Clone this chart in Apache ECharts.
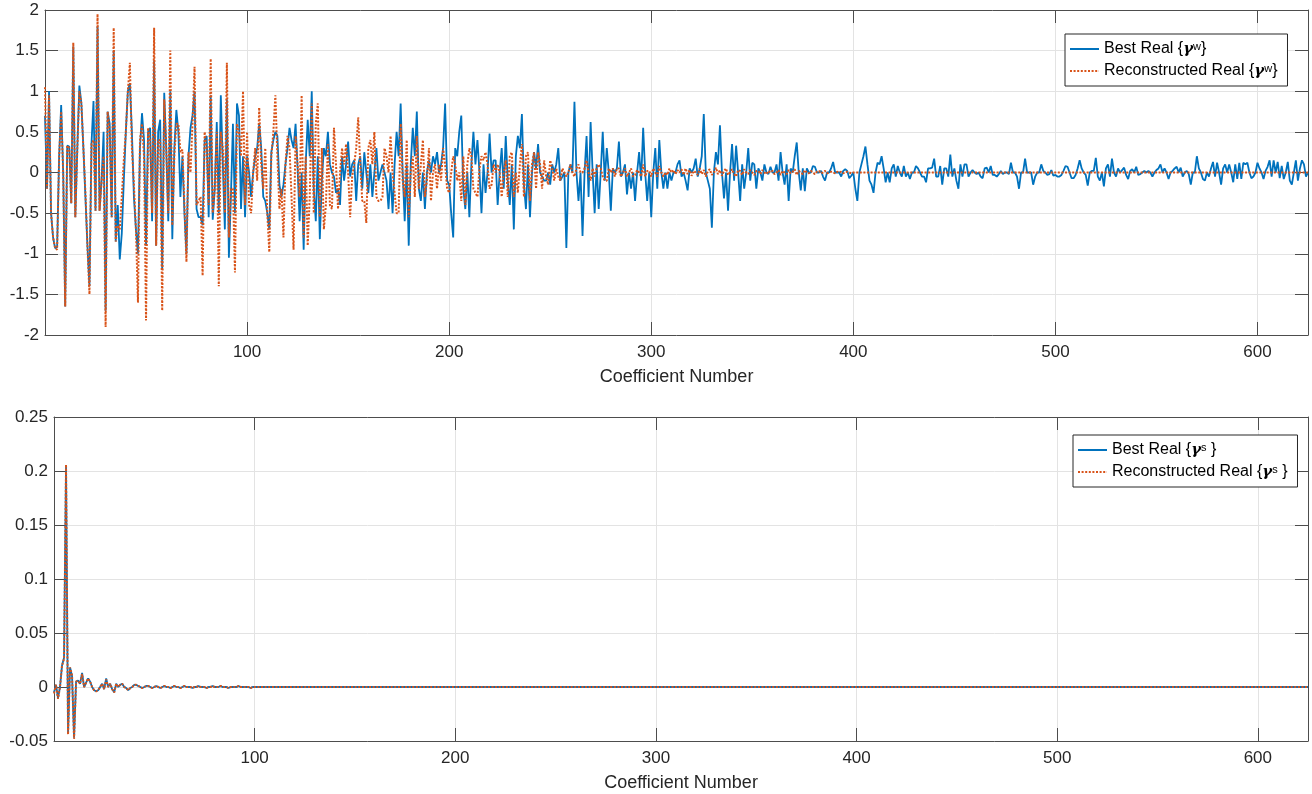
<!DOCTYPE html>
<html>
<head>
<meta charset="utf-8">
<script src="https://cdn.jsdelivr.net/npm/echarts@6/dist/echarts.min.js"></script>
<style>
  html, body { margin: 0; padding: 0; background: #fff; }
  #main { width: 1312px; height: 794px; }
</style>
</head>
<body>
<div id="main"></div>
<script>
// x runs 0..625 (coefficient number)
var xMin = 0, xMax = 625;

// top panel: best vs reconstructed real {gamma^w}
var bestW = [
  0.7,-0.2,1.0,-0.5,-0.8,-0.93,-0.92,0.2,0.83,0.0,
  -1.65,0.33,0.32,-0.38,1.55,-0.55,0.3,1.07,0.85,0.3,
  -0.3,-0.9,-1.4,0.35,0.88,-0.47,1.8,-0.47,-0.1,0.5,
  -1.7,0.75,0.6,-0.55,1.5,-0.85,-0.4,-1.07,-0.75,-0.1,
  0.5,1.0,1.1,0.5,-0.3,-0.7,-1.0,0.3,0.73,0.4,
  -0.9,0.5,0.55,-0.6,1.38,-0.9,0.5,0.65,-1.2,0.98,
  0.3,-0.6,1.0,-0.82,0.3,0.77,0.5,-0.3,0.2,-0.5,
  -1.0,0.2,0.55,0.7,1.0,-0.45,-0.55,-0.55,-0.65,0.4,
  0.45,-0.55,0.95,-0.58,-0.2,0.62,-0.5,0.95,0.1,-0.7,
  0.9,-1.05,-0.3,0.6,-0.5,0.85,0.7,-0.45,0.2,-0.55,
  0.2,0.0,-0.3,0.0,0.2,0.3,0.6,0.3,-0.3,-0.35,
  -0.5,-0.7,0.25,0.4,0.5,0.45,-0.15,-0.3,-0.15,0.1,
  0.3,0.55,0.4,0.3,0.6,0.05,-0.6,0.0,-0.95,0.1,
  0.65,0.2,1.0,-0.2,-0.6,0.2,-0.82,-0.1,0.3,0.2,
  0.5,0.1,0.0,-0.05,-0.25,-0.2,-0.4,0.2,-0.1,0.1,
  0.38,-0.05,0.1,0.15,-0.35,0.1,0.2,-0.2,0.25,0.0,
  -0.25,0.1,-0.3,0.0,0.3,-0.1,0.0,0.1,0.0,-0.1,
  -0.45,0.0,-0.5,0.1,0.5,0.2,0.85,0.0,-0.6,0.1,
  -0.9,0.1,0.55,0.2,0.75,-0.2,-0.35,0.0,-0.45,0.0,
  0.15,0.0,0.2,0.1,0.25,0.0,0.1,0.3,0.85,-0.1,
  -0.15,-0.5,-0.8,0.3,0.2,0.5,0.7,-0.2,-0.45,0.0,
  -0.55,0.1,0.5,0.1,0.4,0.0,-0.5,0.1,-0.25,0.0,
  0.48,0.0,0.15,0.15,-0.4,0.0,0.3,-0.2,0.45,-0.1,
  -0.4,0.1,-0.7,0.2,0.45,0.3,0.72,-0.15,-0.45,0.1,
  -0.55,0.0,0.25,0.05,0.35,0.0,-0.05,-0.1,-0.1,0.0,
  -0.15,0.1,0.0,0.1,0.3,-0.1,-0.05,0.0,-0.93,0.0,
  0.1,0.0,0.87,0.0,-0.35,0.0,-0.78,0.0,0.45,-0.3,
  0.62,0.0,-0.5,0.1,-0.45,0.0,0.5,-0.1,0.3,0.0,
  -0.47,0.05,0.0,0.05,0.38,-0.05,0.0,0.1,-0.27,0.0,
  -0.2,0.0,-0.35,0.0,0.25,-0.1,0.55,0.0,-0.35,0.0,
  -0.55,0.0,0.3,-0.2,0.4,0.0,-0.2,0.0,-0.2,0.0,
  -0.1,0.0,0.0,0.1,0.15,-0.05,0.0,-0.1,-0.22,0.05,
  0.0,0.05,0.17,-0.05,0.05,0.2,0.72,0.0,-0.1,-0.2,
  -0.68,0.0,0.25,0.1,0.58,0.0,-0.32,0.0,-0.47,0.0,
  0.35,-0.1,0.33,0.0,-0.35,0.1,-0.2,0.0,0.3,-0.1,
  0.12,0.1,-0.2,0.05,0.0,-0.1,0.1,0.0,-0.02,0.07,
  0.0,0.0,0.1,-0.1,0.25,0.0,-0.15,0.1,-0.35,0.05,
  0.0,0.2,0.37,0.0,-0.22,0.05,-0.23,0.05,0.0,0.0,
  0.08,0.07,0.0,0.0,0.02,-0.05,-0.1,0.0,0.0,0.05,
  0.13,0.0,0.0,0.0,-0.05,0.02,0.04,0.02,-0.07,-0.04,
  0.0,-0.2,-0.35,0.0,0.1,0.2,0.32,0.1,-0.1,-0.15,
  -0.25,0.0,0.12,0.1,0.2,0.05,-0.12,0.0,-0.12,0.05,
  0.1,-0.05,0.08,0.0,-0.05,0.08,-0.05,0.0,-0.08,0.0,
  0.0,0.08,0.05,0.0,-0.05,-0.05,-0.12,0.05,0.05,0.06,
  0.17,-0.05,-0.05,0.08,-0.15,0.05,0.05,-0.05,0.22,-0.05,
  0.05,-0.1,-0.2,0.1,-0.05,0.1,0.1,-0.05,0.0,0.03,
  0.0,-0.02,0.0,-0.05,-0.07,0.05,0.06,0.0,0.08,-0.03,
  -0.03,-0.05,-0.02,0.02,-0.02,0.0,0.0,-0.02,0.12,0.0,
  0.0,-0.05,-0.2,0.0,0.0,0.17,0.0,0.0,0.0,-0.15,
  -0.05,0.0,0.0,0.1,0.02,0.0,-0.03,-0.02,0.03,-0.04,
  -0.03,-0.05,-0.05,-0.03,0.02,0.08,0.07,0.0,-0.07,-0.07,
  -0.03,0.05,0.15,0.05,0.0,-0.03,-0.16,0.0,0.02,0.02,
  0.18,-0.05,-0.1,0.0,-0.17,0.05,0.1,-0.05,0.17,0.0,
  -0.05,0.05,0.0,0.03,0.06,-0.03,-0.08,0.02,0.04,0.0,
  0.07,-0.03,-0.02,0.0,0.02,0.0,0.02,0.0,-0.05,0.0,
  0.03,0.05,0.1,0.0,0.05,0.0,-0.08,0.0,0.02,0.05,
  0.07,0.0,0.06,-0.05,0.0,0.02,-0.02,-0.15,0.0,0.0,
  0.2,0.05,0.0,-0.08,-0.1,0.0,-0.05,0.05,0.13,-0.05,
  0.12,0.0,-0.15,0.05,0.1,0.0,0.1,0.0,-0.12,0.1,
  -0.08,0.12,-0.08,0.12,0.1,0.12,0.0,-0.07,-0.05,0.0,
  0.12,0.05,0.0,-0.08,0.02,0.07,0.15,-0.05,0.15,0.0,
  0.13,-0.07,0.08,-0.08,0.0,0.13,-0.1,-0.15,0.0,0.15,
  -0.1,0.05,0.15,0.1,-0.05,0.0
];

var reconW = [
  1.05,-0.2,0.95,-0.5,-0.8,-0.93,-0.95,0.2,0.75,0.0,
  -1.65,0.33,0.3,-0.38,1.6,-0.55,0.3,1.0,0.85,0.3,
  -0.25,-0.9,-1.5,0.35,0.4,-0.47,1.95,-0.47,-0.1,0.2,
  -1.9,0.75,0.5,-0.55,1.78,-0.85,-0.65,-0.7,-0.3,0.15,
  0.5,1.0,1.35,0.3,-0.15,-0.7,-1.6,0.4,0.6,0.2,
  -1.82,0.55,0.4,-0.5,1.78,-0.9,0.4,0.4,-1.7,0.9,
  0.3,-0.5,1.5,-0.65,0.2,0.6,0.6,0.25,0.28,-0.4,
  -1.1,0.25,0.0,0.6,1.3,-0.4,-0.35,-0.3,-1.27,0.5,
  0.3,-0.4,1.4,-0.5,-0.2,0.5,-1.4,0.5,0.3,-0.5,
  1.35,-0.8,-0.2,-0.2,-1.23,0.6,0.5,0.2,1.0,-0.4,
  0.5,-0.4,-0.5,0.0,0.3,-0.1,0.8,0.1,-0.2,0.3,
  -0.5,-0.98,0.2,0.5,0.95,0.2,-0.45,-0.2,-0.8,0.1,
  0.45,0.3,-0.3,-0.95,0.45,0.1,-0.3,0.95,-0.8,0.2,
  -0.9,-0.3,0.85,-0.5,0.6,0.85,-0.55,0.3,-0.7,-0.4,
  0.35,-0.4,-0.45,0.55,0.1,-0.45,0.0,0.3,0.1,0.35,
  0.0,-0.55,-0.05,0.1,0.3,0.68,0.1,-0.35,-0.35,-0.62,
  0.3,0.4,0.1,0.5,-0.3,-0.35,-0.35,-0.3,0.3,0.2,
  0.0,0.45,0.0,-0.25,-0.5,-0.5,0.6,-0.1,-0.3,0.4,
  -0.55,0.0,0.2,-0.3,0.45,-0.2,0.1,0.4,-0.3,-0.1,
  0.3,-0.35,0.0,0.1,-0.2,0.1,-0.1,0.3,0.1,-0.2,
  -0.25,0.0,0.2,0.1,-0.1,0.0,-0.35,0.2,-0.4,0.1,
  0.3,0.2,-0.2,-0.25,-0.3,0.05,0.2,0.15,0.25,0.1,
  -0.2,-0.15,0.1,0.0,0.1,0.0,-0.3,0.0,0.15,-0.3,
  0.2,0.25,-0.3,0.0,-0.25,0.1,0.35,-0.3,0.2,0.25,
  -0.35,0.1,0.25,-0.2,0.25,0.1,-0.2,0.15,-0.05,-0.15,
  0.15,0.05,-0.1,0.05,-0.05,-0.1,0.05,0.0,-0.05,0.0,
  0.1,0.0,-0.05,0.05,0.1,0.0,0.0,0.05,0.15,0.0,
  -0.1,0.05,-0.05,0.05,0.1,0.05,-0.05,-0.1,-0.1,0.05,
  0.0,0.05,-0.05,0.05,0.05,-0.05,0.0,0.05,-0.05,0.0,
  0.05,-0.05,-0.03,0.03,0.0,-0.05,0.1,-0.05,0.02,0.02,
  -0.05,0.05,0.0,-0.05,0.08,0.0,-0.05,0.0,-0.03,0.05,
  0.0,0.03,-0.02,0.03,0.0,0.04,-0.03,0.05,-0.02,0.03,
  -0.04,0.02,0.0,-0.03,0.05,-0.02,0.03,-0.05,0.02,0.04,
  -0.03,0.0,0.06,-0.02,0.03,-0.04,0.02,0.05,-0.03,0.0,
  0.04,-0.02,-0.05,0.03,0.02,-0.03,0.04,0.0,-0.02,0.03,
  0.0,-0.03,0.02,0.02,-0.02,0.03,0.0,-0.02,0.02,0.0,
  0.02,-0.02,0.0,0.03,-0.03,0.02,0.0,-0.02,0.03,-0.01,
  0.01,0.04,-0.03,0.02,0.0,-0.02,0.03,0.0,-0.01,0.02,
  0.0,-0.02,0.01,0.02,-0.01,0.0,0.02,-0.01,0.0,0.01,
  0.0,-0.01,0.01,0.0,0.01,-0.01,0.0,0.01,0.0,-0.01,
  // 400-499
  0,0,0,0,0,0,0,0,0,0, 0,0,0,0,0,0,0,0,0,0,
  0,0,0,0,0,0,0,0,0,0, 0,0,0,0,0,0,0,0,0,0,
  0,0,0,0,0,0,0,0,0,0, 0,0,0,0,0,0,0,0,0,0,
  0,0,0,0,0,0,0,0,0,0, 0,0,0,0,0,0,0,0,0,0,
  0,0,0,0,0,0,0,0,0,0, 0,0,0,0,0,0,0,0,0,0,
  // 500-599
  0,0,0,0,0,0,0,0,0,0, 0,0,0,0,0,0,0,0,0,0,
  0,0,0,0,0,0,0,0,0,0, 0,0,0,0,0,0,0,0,0,0,
  0,0,0,0,0,0,0,0,0,0, 0,0,0,0,0,0,0,0,0,0,
  0,0,0,0,0,0,0,0,0,0, 0,0,0,0,0,0,0,0,0,0,
  0,0,0,0,0,0,0,0,0,0, 0,0,0,0,0,0,0,0,0,0,
  // 600-625
  0,0,0,0,0,0,0,0,0,0, 0,0,0,0,0,0,0,0,0,0,
  0,0,0,0,0,0
];

// bottom panel: best vs reconstructed real {gamma^s}
var bestS = [
  -0.005,0.002,-0.01,0.0,0.02,0.027,0.205,-0.043,0.018,0.01,
  -0.047,0.005,0.006,0.003,0.013,0.0,0.004,0.008,0.005,0.0,
  -0.003,-0.004,-0.003,0.0,0.003,-0.002,0.008,0.0,0.003,-0.002,
  -0.005,0.003,0.0,0.002,0.003,0.0,-0.001,-0.003,-0.001,0.0,
  0.002,0.002,0.001,0.0,-0.001,0.0,0.001,0.001,0.0,-0.001,
  0.0,0.001,0.0,-0.001,0.0,0.001,0.0,0.0,-0.001,0.0,
  0.001,0.0,0.0,-0.001,0.0,0.001,0.0,0.0,0.0,-0.001,
  0.0,0.0,0.001,0.0,0.0,0.0,-0.001,0.0,0.0,0.001,
  0.0,0.0,0.0,0.001,0.0,0.0,0.0,-0.001,0.0,0.0,
  0.0,0.0,0.001,0.0,0.0,0.0,0.0,0.0,-0.001,0.0,
  // 100-199
  0,0,0,0,0,0,0,0,0,0, 0,0,0,0,0,0,0,0,0,0,
  0,0,0,0,0,0,0,0,0,0, 0,0,0,0,0,0,0,0,0,0,
  0,0,0,0,0,0,0,0,0,0, 0,0,0,0,0,0,0,0,0,0,
  0,0,0,0,0,0,0,0,0,0, 0,0,0,0,0,0,0,0,0,0,
  0,0,0,0,0,0,0,0,0,0, 0,0,0,0,0,0,0,0,0,0,
  // 200-299
  0,0,0,0,0,0,0,0,0,0, 0,0,0,0,0,0,0,0,0,0,
  0,0,0,0,0,0,0,0,0,0, 0,0,0,0,0,0,0,0,0,0,
  0,0,0,0,0,0,0,0,0,0, 0,0,0,0,0,0,0,0,0,0,
  0,0,0,0,0,0,0,0,0,0, 0,0,0,0,0,0,0,0,0,0,
  0,0,0,0,0,0,0,0,0,0, 0,0,0,0,0,0,0,0,0,0,
  // 300-399
  0,0,0,0,0,0,0,0,0,0, 0,0,0,0,0,0,0,0,0,0,
  0,0,0,0,0,0,0,0,0,0, 0,0,0,0,0,0,0,0,0,0,
  0,0,0,0,0,0,0,0,0,0, 0,0,0,0,0,0,0,0,0,0,
  0,0,0,0,0,0,0,0,0,0, 0,0,0,0,0,0,0,0,0,0,
  0,0,0,0,0,0,0,0,0,0, 0,0,0,0,0,0,0,0,0,0,
  // 400-499
  0,0,0,0,0,0,0,0,0,0, 0,0,0,0,0,0,0,0,0,0,
  0,0,0,0,0,0,0,0,0,0, 0,0,0,0,0,0,0,0,0,0,
  0,0,0,0,0,0,0,0,0,0, 0,0,0,0,0,0,0,0,0,0,
  0,0,0,0,0,0,0,0,0,0, 0,0,0,0,0,0,0,0,0,0,
  0,0,0,0,0,0,0,0,0,0, 0,0,0,0,0,0,0,0,0,0,
  // 500-599
  0,0,0,0,0,0,0,0,0,0, 0,0,0,0,0,0,0,0,0,0,
  0,0,0,0,0,0,0,0,0,0, 0,0,0,0,0,0,0,0,0,0,
  0,0,0,0,0,0,0,0,0,0, 0,0,0,0,0,0,0,0,0,0,
  0,0,0,0,0,0,0,0,0,0, 0,0,0,0,0,0,0,0,0,0,
  0,0,0,0,0,0,0,0,0,0, 0,0,0,0,0,0,0,0,0,0,
  // 600-625
  0,0,0,0,0,0,0,0,0,0, 0,0,0,0,0,0,0,0,0,0,
  0,0,0,0,0,0
];

var reconS = [
  -0.006,0.002,-0.011,0.0,0.02,0.026,0.206,-0.044,0.018,0.011,
  -0.048,0.005,0.006,0.003,0.012,0.0,0.004,0.008,0.005,0.0,
  -0.003,-0.004,-0.003,0.0,0.003,-0.002,0.007,0.0,0.003,-0.002,
  -0.005,0.003,0.0,0.002,0.003,0.0,-0.001,-0.003,-0.001,0.0,
  0.002,0.002,0.001,0.0,-0.001,0.0,0.001,0.001,0.0,-0.001,
  0.0,0.001,0.0,-0.001,0.0,0.001,0.0,0.0,-0.001,0.0,
  0.001,0.0,0.0,-0.001,0.0,0.001,0.0,0.0,0.0,-0.001,
  0.0,0.0,0.001,0.0,0.0,0.0,-0.001,0.0,0.0,0.001,
  0.0,0.0,0.0,0.001,0.0,0.0,0.0,-0.001,0.0,0.0,
  0.0,0.0,0.001,0.0,0.0,0.0,0.0,0.0,-0.001,0.0,
  // 100-199
  0,0,0,0,0,0,0,0,0,0, 0,0,0,0,0,0,0,0,0,0,
  0,0,0,0,0,0,0,0,0,0, 0,0,0,0,0,0,0,0,0,0,
  0,0,0,0,0,0,0,0,0,0, 0,0,0,0,0,0,0,0,0,0,
  0,0,0,0,0,0,0,0,0,0, 0,0,0,0,0,0,0,0,0,0,
  0,0,0,0,0,0,0,0,0,0, 0,0,0,0,0,0,0,0,0,0,
  // 200-299
  0,0,0,0,0,0,0,0,0,0, 0,0,0,0,0,0,0,0,0,0,
  0,0,0,0,0,0,0,0,0,0, 0,0,0,0,0,0,0,0,0,0,
  0,0,0,0,0,0,0,0,0,0, 0,0,0,0,0,0,0,0,0,0,
  0,0,0,0,0,0,0,0,0,0, 0,0,0,0,0,0,0,0,0,0,
  0,0,0,0,0,0,0,0,0,0, 0,0,0,0,0,0,0,0,0,0,
  // 300-399
  0,0,0,0,0,0,0,0,0,0, 0,0,0,0,0,0,0,0,0,0,
  0,0,0,0,0,0,0,0,0,0, 0,0,0,0,0,0,0,0,0,0,
  0,0,0,0,0,0,0,0,0,0, 0,0,0,0,0,0,0,0,0,0,
  0,0,0,0,0,0,0,0,0,0, 0,0,0,0,0,0,0,0,0,0,
  0,0,0,0,0,0,0,0,0,0, 0,0,0,0,0,0,0,0,0,0,
  // 400-499
  0,0,0,0,0,0,0,0,0,0, 0,0,0,0,0,0,0,0,0,0,
  0,0,0,0,0,0,0,0,0,0, 0,0,0,0,0,0,0,0,0,0,
  0,0,0,0,0,0,0,0,0,0, 0,0,0,0,0,0,0,0,0,0,
  0,0,0,0,0,0,0,0,0,0, 0,0,0,0,0,0,0,0,0,0,
  0,0,0,0,0,0,0,0,0,0, 0,0,0,0,0,0,0,0,0,0,
  // 500-599
  0,0,0,0,0,0,0,0,0,0, 0,0,0,0,0,0,0,0,0,0,
  0,0,0,0,0,0,0,0,0,0, 0,0,0,0,0,0,0,0,0,0,
  0,0,0,0,0,0,0,0,0,0, 0,0,0,0,0,0,0,0,0,0,
  0,0,0,0,0,0,0,0,0,0, 0,0,0,0,0,0,0,0,0,0,
  0,0,0,0,0,0,0,0,0,0, 0,0,0,0,0,0,0,0,0,0,
  // 600-625
  0,0,0,0,0,0,0,0,0,0, 0,0,0,0,0,0,0,0,0,0,
  0,0,0,0,0,0
];

var topTicks = { min: -2, max: 2, interval: 0.5 };
var bottomTicks = { min: -0.05, max: 0.25, interval: 0.05 };
var xTickInterval = 100;
var xName = "Coefficient Number";

var legendText = {
  bw: "Best Real {{g|γ}{s|w}}",
  rw: "Reconstructed Real {{g|γ}{s|w}}",
  bs: "Best Real {{g|γ}{s|s} }",
  rs: "Reconstructed Real {{g|γ}{s|s} }"
};

function pairs(arr) {
  var out = [];
  for (var i = 0; i < arr.length; i++) out.push([i, arr[i]]);
  return out;
}

var font = "Liberation Sans";
var axisCol = "#4d4d4d";
var gridCol = "#e3e3e3";
var blue = "#0072BD";
var orange = "#D95319";

function xAxes(gridIndex) {
  return [
    {
      type: "value", gridIndex: gridIndex, position: "bottom",
      min: xMin, max: xMax, interval: xTickInterval,
      name: xName, nameLocation: "middle", nameGap: 33,
      nameTextStyle: { fontFamily: font, fontSize: 18, color: "#262626" },
      axisLine: { show: true, onZero: false, lineStyle: { color: axisCol, width: 1 } },
      axisTick: { show: true, inside: true, length: 13, lineStyle: { color: axisCol } },
      axisLabel: {
        fontFamily: font, fontSize: 17, color: "#262626", margin: 9,
        showMinLabel: false, showMaxLabel: false
      },
      splitLine: { show: true, lineStyle: { color: gridCol, width: 1 } }
    },
    {
      type: "value", gridIndex: gridIndex, position: "top",
      min: xMin, max: xMax, interval: xTickInterval,
      axisLine: { show: true, onZero: false, lineStyle: { color: axisCol, width: 1 } },
      axisTick: { show: true, inside: true, length: 13, lineStyle: { color: axisCol } },
      axisLabel: { show: false },
      splitLine: { show: false }
    }
  ];
}

function yAxes(gridIndex, t) {
  return [
    {
      type: "value", gridIndex: gridIndex, position: "left",
      min: t.min, max: t.max, interval: t.interval,
      axisLine: { show: true, onZero: false, lineStyle: { color: axisCol, width: 1 } },
      axisTick: { show: true, inside: true, length: 13, lineStyle: { color: axisCol } },
      axisLabel: { fontFamily: font, fontSize: 17, color: "#262626", margin: 6 },
      splitLine: { show: true, lineStyle: { color: gridCol, width: 1 } }
    },
    {
      type: "value", gridIndex: gridIndex, position: "right",
      min: t.min, max: t.max, interval: t.interval,
      axisLine: { show: true, onZero: false, lineStyle: { color: axisCol, width: 1 } },
      axisTick: { show: true, inside: true, length: 13, lineStyle: { color: axisCol } },
      axisLabel: { show: false },
      splitLine: { show: false }
    }
  ];
}

var richStyle = {
  g: { fontFamily: "DejaVu Serif", fontWeight: "bold", fontStyle: "italic", fontSize: 15, color: "#000" },
  s: { fontFamily: font, fontSize: 11, color: "#000", verticalAlign: "top", lineHeight: 9 }
};

function legendBox(names, left, top) {
  return {
    data: names, left: left, top: top, orient: "vertical",
    itemGap: 6, itemWidth: 29, itemHeight: 14,
    padding: [7, 10, 7, 4],
    borderColor: "#262626", borderWidth: 1, backgroundColor: "#fff",
    itemStyle: { opacity: 0 },
    formatter: function (n) { return legendText[n]; },
    textStyle: { fontFamily: font, fontSize: 16, color: "#000", rich: richStyle }
  };
}

var chart = echarts.init(document.getElementById("main"));
chart.setOption({
  animation: false,
  backgroundColor: "#fff",
  grid: [
    { left: 45, top: 10, width: 1263, height: 325 },
    { left: 54, top: 417, width: 1254, height: 324 }
  ],
  xAxis: xAxes(0).concat(xAxes(1)),
  yAxis: yAxes(0, topTicks).concat(yAxes(1, bottomTicks)),
  legend: [
    legendBox(["bw", "rw"], 1065, 34),
    legendBox(["bs", "rs"], 1073, 435)
  ],
  series: [
    {
      name: "bw", type: "line", xAxisIndex: 0, yAxisIndex: 0,
      data: pairs(bestW), symbol: "none", showSymbol: false,
      lineStyle: { color: blue, width: 1.8 }, itemStyle: { color: blue }
    },
    {
      name: "rw", type: "line", xAxisIndex: 0, yAxisIndex: 0,
      data: pairs(reconW), symbol: "none", showSymbol: false,
      lineStyle: { color: orange, width: 2, type: [2, 1.6] }, itemStyle: { color: orange }
    },
    {
      name: "bs", type: "line", xAxisIndex: 2, yAxisIndex: 2,
      data: pairs(bestS), symbol: "none", showSymbol: false,
      lineStyle: { color: blue, width: 1.8 }, itemStyle: { color: blue }
    },
    {
      name: "rs", type: "line", xAxisIndex: 2, yAxisIndex: 2,
      data: pairs(reconS), symbol: "none", showSymbol: false,
      lineStyle: { color: orange, width: 2, type: [2, 1.6] }, itemStyle: { color: orange }
    }
  ]
});
</script>
</body>
</html>
